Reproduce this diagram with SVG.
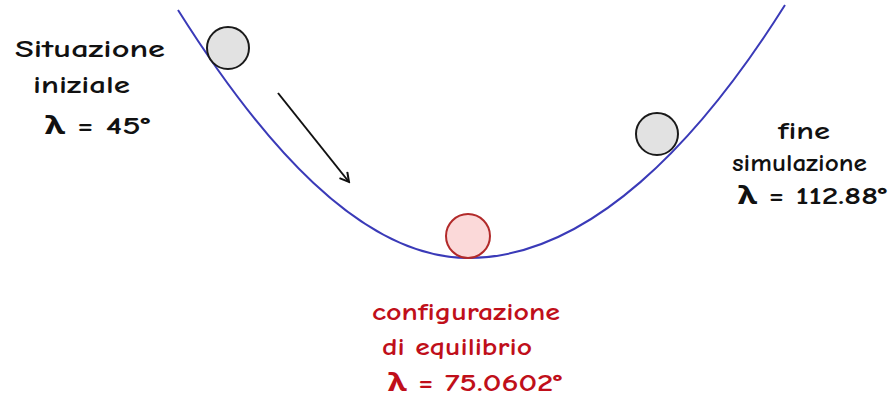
<svg xmlns="http://www.w3.org/2000/svg" width="894" height="404" viewBox="0 0 894 404">
<style>
.t{font-family:"Comic Neue","Noto Sans","Liberation Sans",sans-serif;font-size:25px;font-weight:bold;fill:#111}
.r{fill:#c00f1a}
.ball{fill:#e2e2e2;stroke:#1a1a1a;stroke-width:2}
.eq{fill:#fbd9d9;stroke:#b22a2a;stroke-width:2}
</style>
<defs>
<marker id="ah" viewBox="0 0 12 12" refX="10" refY="6" markerWidth="12" markerHeight="12" markerUnits="userSpaceOnUse" orient="auto">
<path d="M1,1 L10,6 L1,11" fill="none" stroke="#111" stroke-width="2"/>
</marker>
</defs>
<rect width="894" height="404" fill="#fff"/>
<g id="curve">
<path d="M178,10 C260,140 360,258 468,258 C590,258 700,140 785,5" fill="none" stroke="#3a3ab8" stroke-width="2"/>
</g>
<g id="connectors">
<line x1="278" y1="93" x2="349" y2="182" stroke="#111" stroke-width="2" marker-end="url(#ah)"/>
</g>
<g id="ball-start"><circle class="ball" cx="228" cy="48" r="21"/></g>
<g id="ball-end"><circle class="ball" cx="657" cy="134" r="21"/></g>
<g id="ball-eq"><circle class="eq" cx="468" cy="236" r="22"/></g>
<g id="label-start">
<text class="t" x="15" y="57" textLength="150" lengthAdjust="spacingAndGlyphs">Situazione</text>
<text class="t" x="33" y="93" textLength="97" lengthAdjust="spacingAndGlyphs">iniziale</text>
<text class="t" x="45" y="134" textLength="105" lengthAdjust="spacingAndGlyphs">λ = 45°</text>
</g>
<g id="label-end">
<text class="t" x="778" y="139" textLength="52" lengthAdjust="spacingAndGlyphs">fine</text>
<text class="t" x="732" y="171" textLength="135" lengthAdjust="spacingAndGlyphs">simulazione</text>
<text class="t" x="738" y="204" textLength="149" lengthAdjust="spacingAndGlyphs">λ = 112.88°</text>
</g>
<g id="label-eq">
<text class="t r" x="372" y="320" textLength="188" lengthAdjust="spacingAndGlyphs">configurazione</text>
<text class="t r" x="382" y="355" textLength="150" lengthAdjust="spacingAndGlyphs">di equilibrio</text>
<text class="t r" x="388" y="391" textLength="174" lengthAdjust="spacingAndGlyphs">λ = 75.0602°</text>
</g>
</svg>
